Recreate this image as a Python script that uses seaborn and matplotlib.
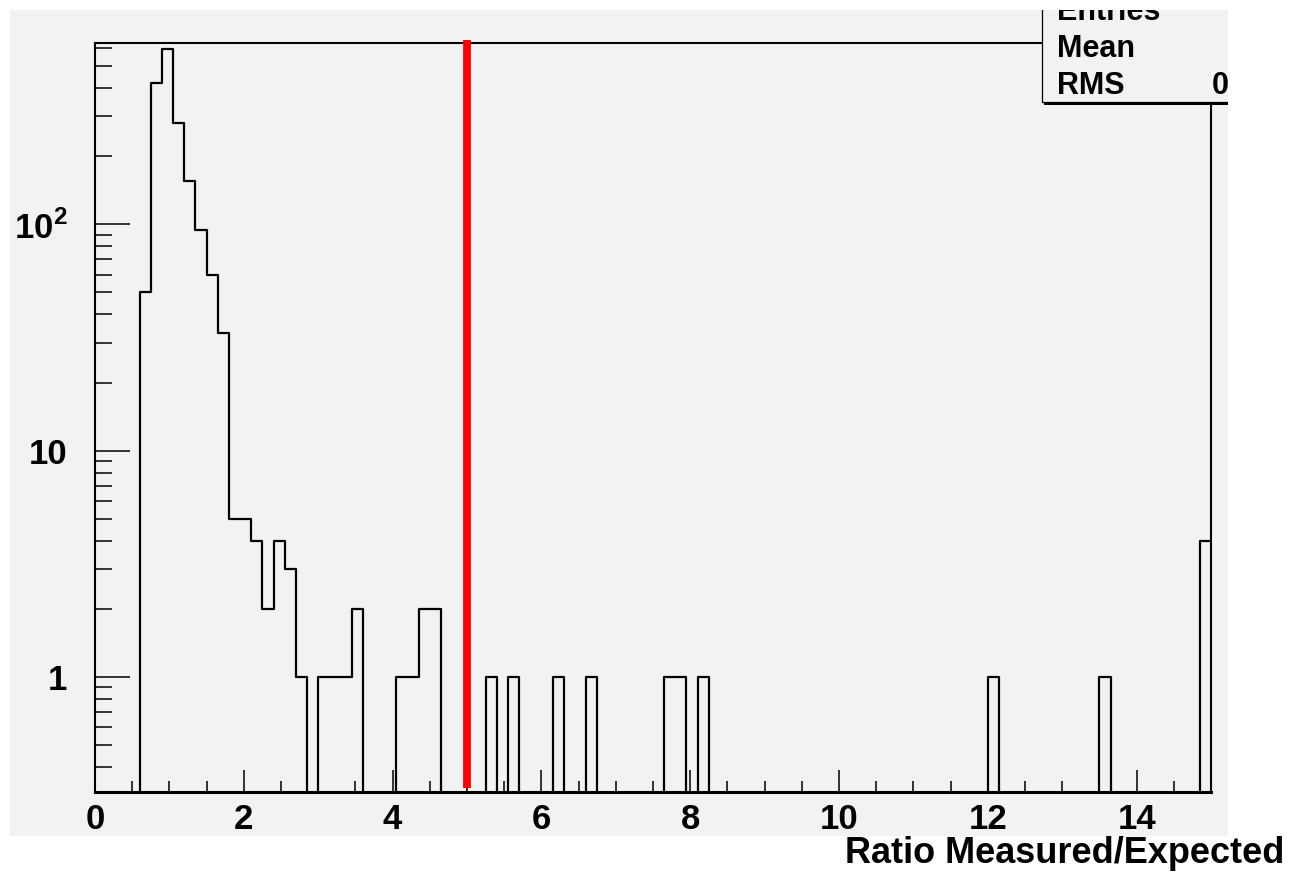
import numpy as np
import pandas as pd
import matplotlib
matplotlib.use("Agg")
import matplotlib.pyplot as plt
import matplotlib.ticker as mticker
import matplotlib.transforms as mtransforms
from matplotlib.patches import Rectangle
import seaborn as sns

# ---------------- data ----------------
x_min, x_max = 0.0, 15.0
n_bins = 100
bin_centers = [0.675, 0.825, 0.975, 1.125, 1.275, 1.425, 1.575, 1.725,
               1.875, 2.025, 2.175, 2.325, 2.475, 2.625, 2.775,
               3.075, 3.225, 3.375, 3.525,
               4.125, 4.275, 4.425, 4.575,
               5.325, 5.625, 6.225, 6.675, 7.725, 7.875, 8.175,
               12.075, 13.575, 14.925]
counts = [50, 423, 594, 281, 156, 94, 60, 33,
          5, 5, 4, 2, 4, 3, 1,
          1, 1, 1, 2,
          1, 1, 2, 2,
          1, 1, 1, 1, 1, 1, 1,
          1, 1, 4]
threshold = 5.0
x_ticks = [0, 2, 4, 6, 8, 10, 12, 14]
x_tick_labels = ["0", "2", "4", "6", "8", "10", "12", "14"]
y_ticks = [1, 10, 100]
y_tick_labels = ["1", "10", r"10$^{\mathbf{2}}$"]
y_limits = (0.31, 630)
x_label = "Ratio Measured/Expected"
stats_labels = ["Entries", "Mean", "RMS"]
stats_value_visible = "0"

df = pd.DataFrame({"ratio": bin_centers, "count": counts})

# ---------------- style ----------------
sns.set_theme(style="ticks")
plt.rcParams["font.family"] = ["Liberation Sans", "DejaVu Sans"]
plt.rcParams["mathtext.fontset"] = "custom"
plt.rcParams["mathtext.rm"] = "Liberation Sans"
plt.rcParams["mathtext.bf"] = "Liberation Sans:bold"
for key in ["text.color", "axes.labelcolor", "xtick.color", "ytick.color", "axes.edgecolor"]:
    plt.rcParams[key] = "black"

W, H = 1292, 872
fig = plt.figure(figsize=(W / 100, H / 100), dpi=100, facecolor="white")

panel_col = "#f2f2f2"
# gray canvas panel (pixel coordinates)
px0, px1, py0, py1 = 10, 1228, 10, 836
bg = fig.add_axes([px0 / W, 1 - py1 / H, (px1 - px0) / W, (py1 - py0) / H], zorder=0)
bg.set_facecolor(panel_col)
bg.set_xticks([]); bg.set_yticks([])
for s in bg.spines.values():
    s.set_visible(False)

# main axes
ax_l, ax_r, ax_t, ax_b = 95, 1211, 43.5, 792
ax = fig.add_axes([ax_l / W, 1 - ax_b / H, (ax_r - ax_l) / W, (ax_b - ax_t) / H], zorder=1)
ax.set_facecolor("none")

sns.histplot(data=df, x="ratio", weights="count", bins=n_bins, binrange=(x_min, x_max),
             element="step", fill=False, color="black", linewidth=1.6, ax=ax)

ax.set_yscale("log")
ax.set_xlim(x_min, x_max)
ax.set_ylim(*y_limits)

# threshold line
trans = mtransforms.blended_transform_factory(ax.transData, ax.transAxes)
ax.plot([threshold, threshold], [0.005, 1.005], color="#ff0000", linewidth=5.6,
        solid_capstyle="butt", transform=trans, clip_on=False, zorder=5)

# ticks
ax.xaxis.set_major_locator(mticker.FixedLocator(x_ticks))
ax.xaxis.set_minor_locator(mticker.MultipleLocator(0.5))
ax.set_xticklabels(x_tick_labels, fontweight="bold", fontsize=25)
ax.yaxis.set_major_locator(mticker.FixedLocator(y_ticks))
ax.yaxis.set_minor_locator(mticker.LogLocator(base=10, subs=np.arange(2, 10), numticks=20))
ax.yaxis.set_minor_formatter(mticker.NullFormatter())
ax.set_yticklabels(y_tick_labels, fontweight="bold", fontsize=25)

ax.tick_params(axis="x", which="major", direction="in", length=16, width=1.1, pad=8,
               colors="black", top=False)
ax.tick_params(axis="x", which="minor", direction="in", length=8, width=1.1, top=False)
ax.tick_params(axis="y", which="major", direction="in", length=25, width=1.1, pad=20,
               colors="black", right=False)
ax.tick_params(axis="y", which="minor", direction="in", length=12.5, width=1.1, right=False)

for name, s in ax.spines.items():
    s.set_visible(True)
    s.set_color("black")
    s.set_linewidth(1.5)
ax.spines["bottom"].set_linewidth(2.2)

ax.set_ylabel("")
ax.set_xlabel(x_label, fontsize=26, fontweight="bold", ha="right", va="baseline", color="black")
ax.xaxis.set_label_coords((1284 - ax_l) / (ax_r - ax_l), -(863 - ax_b) / (ax_b - ax_t))

# overlay for the statistics box (clipped to the canvas panel)
ov = fig.add_axes(bg.get_position(), zorder=3)
ov.set_facecolor("none")
ov.set_xlim(px0, px1)
ov.set_ylim(py1, py0)
ov.axis("off")
ov.add_patch(Rectangle((1044, -60), 300, 60 + 105.5, facecolor="black", edgecolor="none"))
ov.add_patch(Rectangle((1042, -60), 300, 60 + 102.5, facecolor=panel_col, edgecolor="black",
                       linewidth=0.9))
for lab, yc in zip(stats_labels, [9, 46, 83]):
    ov.text(1057, yc, lab, fontsize=22, fontweight="bold", ha="left", va="center_baseline",
            color="black", clip_on=True)
ov.text(1212, 83, stats_value_visible, fontsize=22, fontweight="bold", ha="left",
        va="center_baseline", color="black", clip_on=True)

fig.savefig("out.png", dpi=100, facecolor="white")
